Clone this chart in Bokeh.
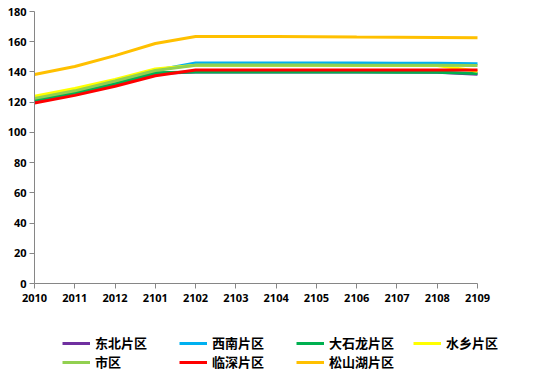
from bokeh.plotting import figure
from bokeh.models import FixedTicker, Legend, LegendItem
from bokeh.layouts import column
from bokeh.embed import file_html
from bokeh.resources import INLINE

categories = ["2010", "2011", "2012", "2101", "2102", "2103", "2104", "2105", "2106", "2107", "2108", "2109"]
dongbei = [121.0, 126.0, 132.0, 139.0, 140.0, 140.0, 140.0, 140.0, 140.0, 140.0, 139.8, 138.4]
xinan = [122.0, 127.0, 133.0, 141.0, 146.0, 146.0, 146.0, 146.0, 145.9, 145.8, 145.8, 145.5]
dashilong = [121.5, 126.0, 132.0, 139.5, 140.0, 140.0, 140.0, 140.0, 139.9, 139.8, 139.8, 139.0]
shuixiang = [124.0, 129.0, 135.0, 142.0, 144.4, 144.4, 144.4, 144.4, 144.3, 144.3, 144.3, 140.5]
shiqu = [122.5, 127.5, 134.0, 141.0, 144.5, 144.5, 144.5, 144.5, 144.4, 144.4, 144.4, 144.3]
linshen = [119.5, 124.5, 130.5, 137.5, 141.3, 141.3, 141.3, 141.3, 141.3, 141.3, 141.3, 141.3]
songshanhu = [138.3, 143.6, 150.8, 158.8, 163.5, 163.5, 163.4, 163.3, 163.1, 163.0, 162.8, 162.6]

series = [
    ("东北片区", dongbei, "#7030A0"),
    ("西南片区", xinan, "#00B0F0"),
    ("大石龙片区", dashilong, "#00B050"),
    ("水乡片区", shuixiang, "#FFFF00"),
    ("市区", shiqu, "#92D050"),
    ("临深片区", linshen, "#FF0000"),
    ("松山湖片区", songshanhu, "#FFC000"),
]

xs = list(range(len(categories)))
n_last = len(categories) - 1
# frame is 496 px wide, the category axis occupies 443 px of it
x_end = n_last * 496 / 443

p = figure(width=538, height=310, output_backend="svg", toolbar_location=None,
           x_range=(0, x_end), y_range=(0, 180),
           min_border_left=34, min_border_right=8, min_border_top=11, min_border_bottom=27)
p.outline_line_color = None
p.xgrid.visible = False
p.ygrid.visible = False

for name, vals, color in series:
    p.line(xs, vals, line_color=color, line_width=3)

p.xaxis.ticker = FixedTicker(ticks=xs)
p.xaxis.bounds = (0, n_last)
p.xaxis.major_label_overrides = {i: c for i, c in enumerate(categories)}
p.yaxis.ticker = FixedTicker(ticks=list(range(0, 181, 20)))
for ax in (p.xaxis, p.yaxis):
    ax.axis_line_color = "#868686"
    ax.major_tick_line_color = "#868686"
    ax.minor_tick_line_color = None
    ax.major_tick_in = 0
    ax.major_tick_out = 5
    ax.major_label_text_font = "Open Sans"
    ax.major_label_text_font_style = "bold"
    ax.major_label_text_font_size = "11px"
    ax.major_label_text_color = "#000000"
p.xaxis.major_label_standoff = 5
p.yaxis.major_label_standoff = 3

# legend in its own strip below the chart (series lie outside this strip's view)
lf = figure(width=538, height=66, output_backend="svg", toolbar_location=None,
            x_range=(0, x_end), y_range=(0, 1),
            x_axis_location=None, y_axis_location=None,
            min_border_left=34, min_border_right=8, min_border_top=0, min_border_bottom=0)
lf.outline_line_color = None
lf.grid.visible = False
items = {}
for name, vals, color in series:
    r = lf.line(xs, vals, line_color=color, line_width=3)
    items[name] = LegendItem(label=name, renderers=[r])

# column-major ordering so rows read left to right
order = ["东北片区", "市区", "西南片区", "临深片区", "大石龙片区", "松山湖片区", "水乡片区"]
legend = Legend(items=[items[n] for n in order], ncols=4, location=(28, 5),
                glyph_width=28, glyph_height=18, label_width=84, label_standoff=5,
                label_height=18, spacing=0, padding=0, margin=0,
                label_text_font="Noto Sans CJK SC", label_text_font_style="bold",
                label_text_font_size="13px", label_text_color="#000000",
                border_line_color=None, background_fill_alpha=0)
lf.add_layout(legend, "center")

open("out.html", "w").write(file_html(column(p, lf), INLINE))
